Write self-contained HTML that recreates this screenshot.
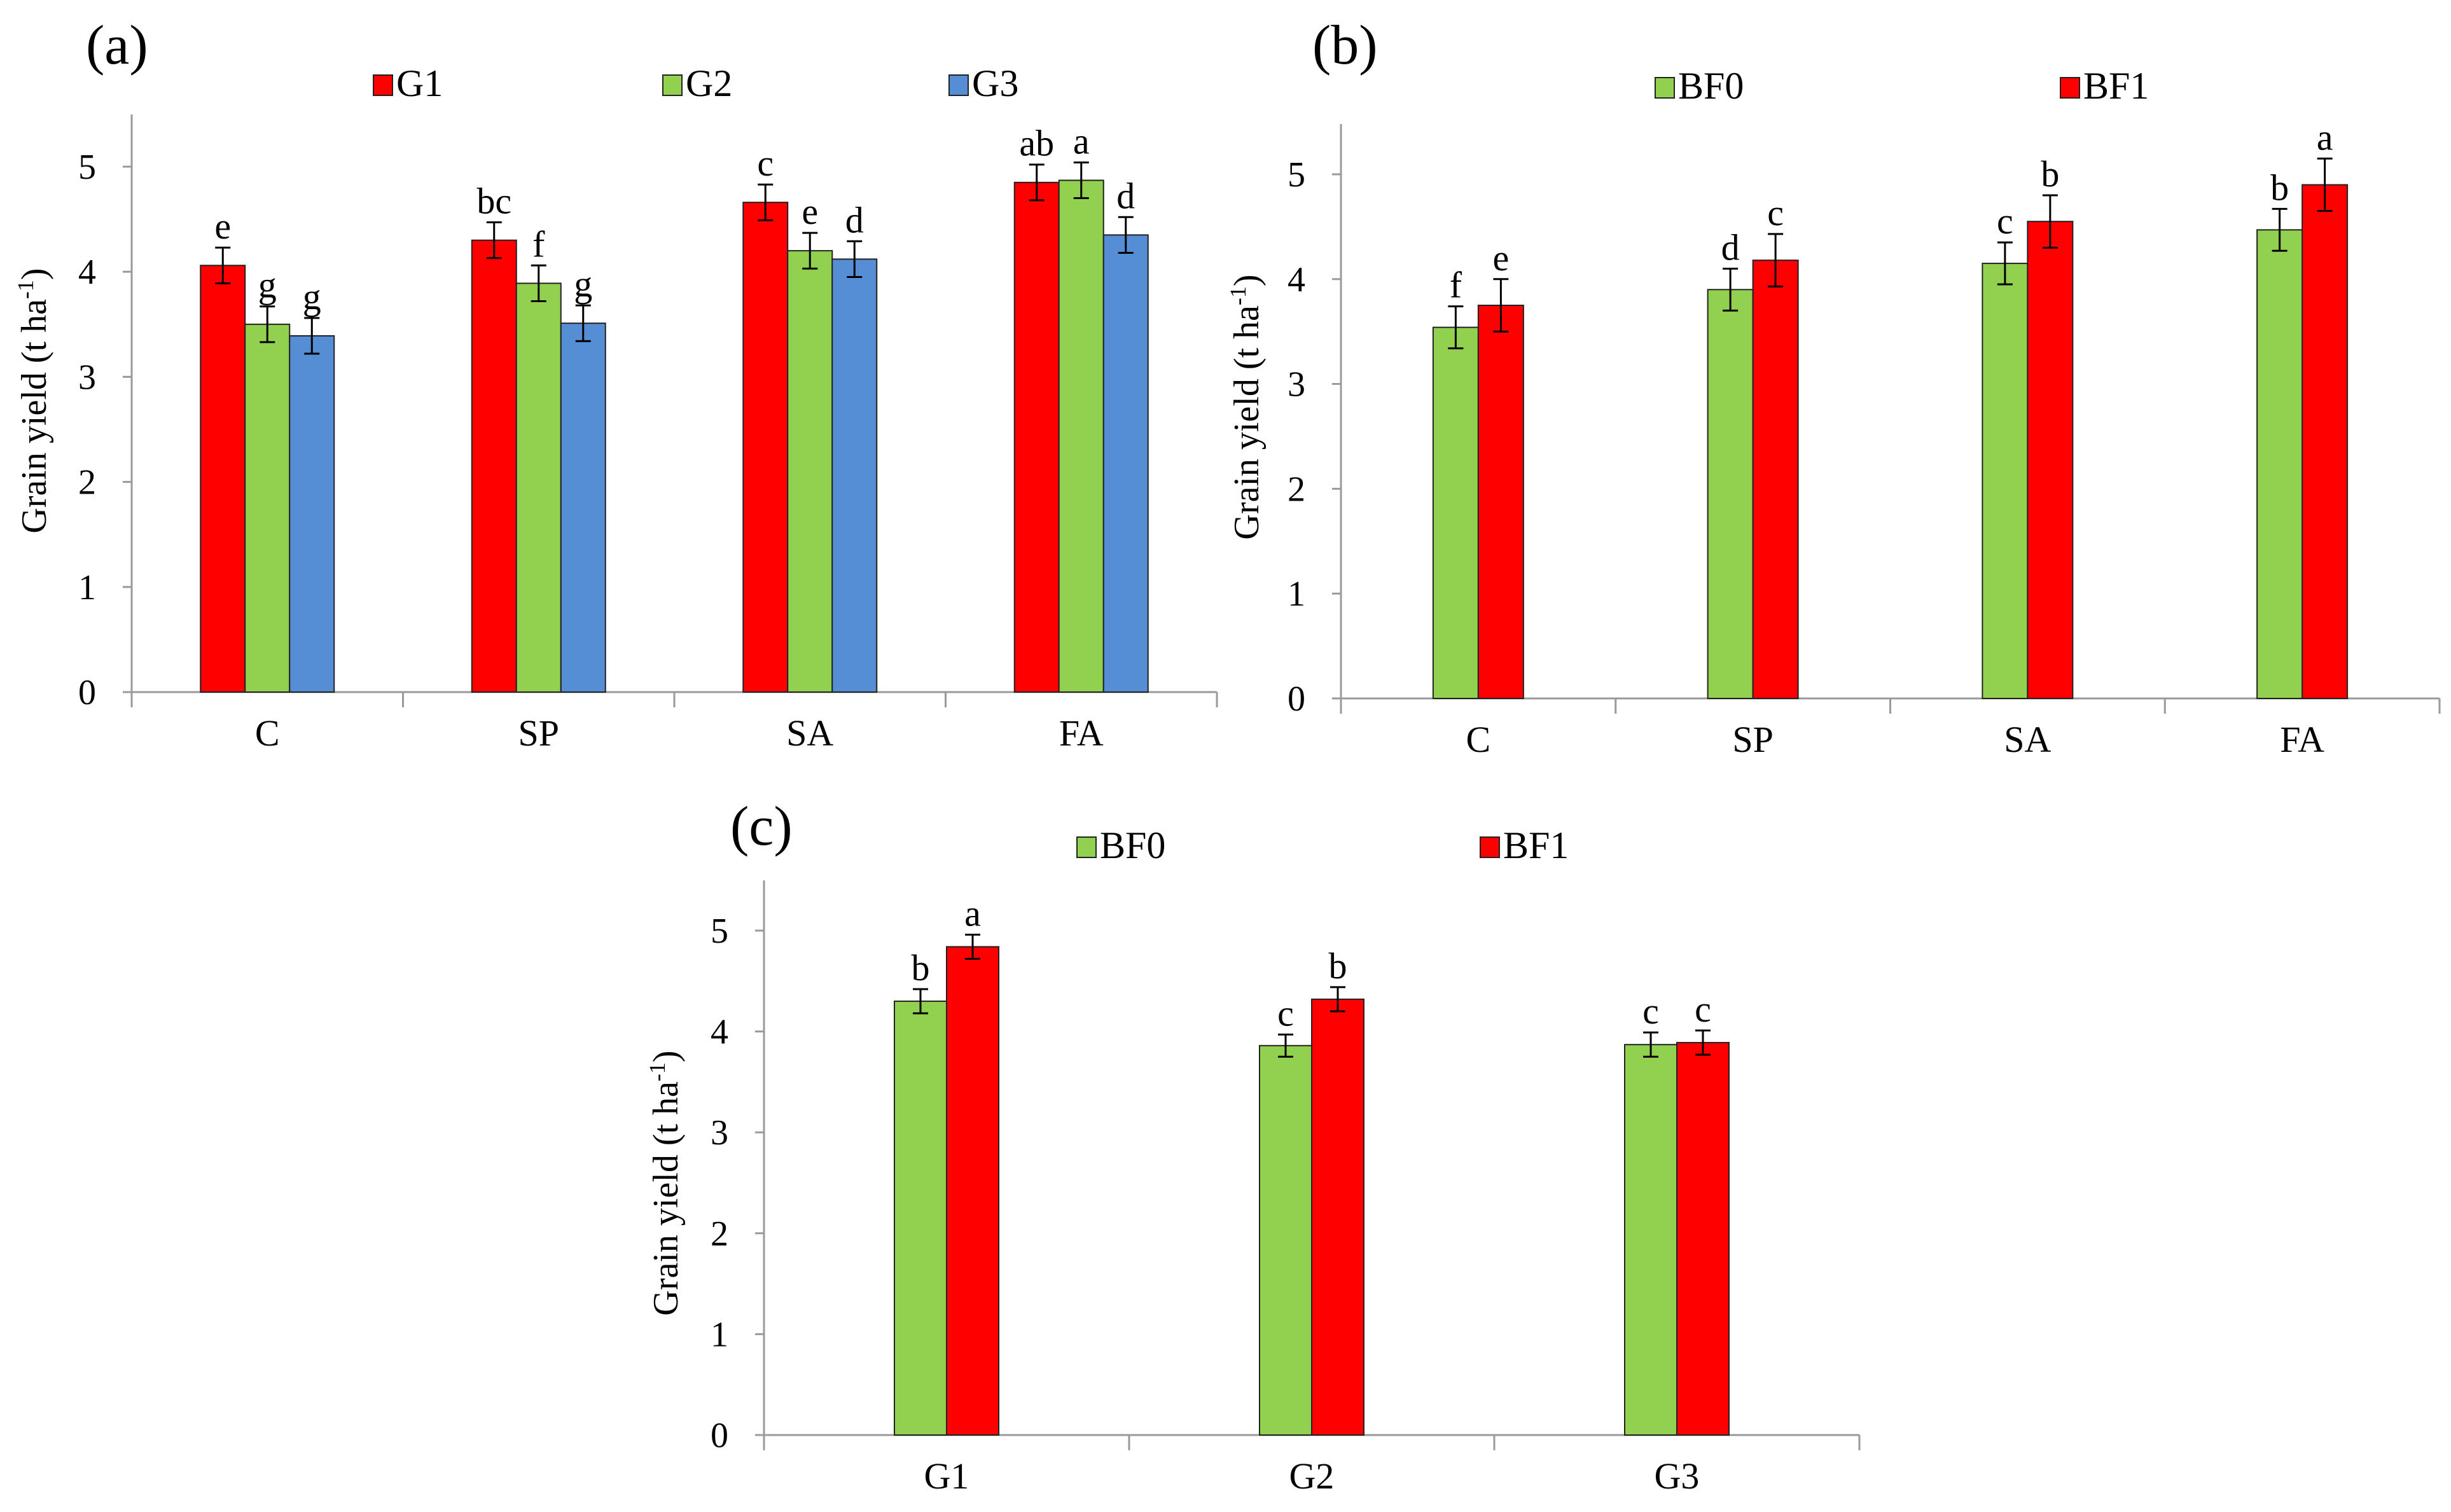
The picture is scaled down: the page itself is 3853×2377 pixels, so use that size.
<!DOCTYPE html>
<html><head><meta charset="utf-8"><style>
html,body{margin:0;padding:0;background:#fff}
svg{display:block;font-family:"Liberation Serif",serif}
</style></head><body>
<svg id="fig" width="3853" height="2377" viewBox="0 0 3853 2377" xmlns="http://www.w3.org/2000/svg"></svg>
<script>
// Panel (a)
const catsA = ["C","SP","SA","FA"];
const seriesNamesA = ["G1","G2","G3"];
const valsA_G1 = [4.06,4.30,4.66,4.85];
const valsA_G2 = [3.50,3.89,4.20,4.87];
const valsA_G3 = [3.39,3.51,4.12,4.35];
const errA_G1 = [0.17,0.17,0.17,0.17];
const errA_G2 = [0.17,0.17,0.17,0.17];
const errA_G3 = [0.17,0.17,0.17,0.17];
const lettersA_G1 = ["e","bc","c","ab"];
const lettersA_G2 = ["g","f","e","a"];
const lettersA_G3 = ["g","g","d","d"];
// Panel (b)
const catsB = ["C","SP","SA","FA"];
const seriesNamesB = ["BF0","BF1"];
const valsB_BF0 = [3.54,3.90,4.15,4.47];
const valsB_BF1 = [3.75,4.18,4.55,4.90];
const errB_BF0 = [0.20,0.20,0.20,0.20];
const errB_BF1 = [0.25,0.25,0.25,0.25];
const lettersB_BF0 = ["f","d","c","b"];
const lettersB_BF1 = ["e","c","b","a"];
// Panel (c)
const catsC = ["G1","G2","G3"];
const seriesNamesC = ["BF0","BF1"];
const valsC_BF0 = [4.30,3.86,3.87];
const valsC_BF1 = [4.84,4.32,3.89];
const errC_BF0 = [0.12,0.11,0.12];
const errC_BF1 = [0.12,0.12,0.12];
const lettersC_BF0 = ["b","c","c"];
const lettersC_BF1 = ["a","b","c"];
const yTicks = [0,1,2,3,4,5];

const RED="#FF0000", GREEN="#92D050", BLUE="#558ED5";
const NS="http://www.w3.org/2000/svg";
const svg=document.getElementById('fig');
function mk(tag,attrs,parent,text){const e=document.createElementNS(NS,tag);for(const k in attrs)e.setAttribute(k,attrs[k]);if(text!==undefined)e.textContent=text;(parent||svg).appendChild(e);return e;}

function panel(cfg){
  const g=mk('g',{});
  
  
  const y=v=>cfg.y0-(v/5)*(cfg.y0-cfg.y5);
  const n=cfg.cats.length, cw=(cfg.xR-cfg.x0)/n;
  const x=i=>cfg.x0+cw*(i+0.5);
  const ya=mk('line',{x1:cfg.x0,y1:cfg.yTop,x2:cfg.x0,y2:cfg.y0,stroke:'#9a9a9a','stroke-width':3},g);
  
  const xa=mk('line',{x1:cfg.x0-14,y1:cfg.y0,x2:cfg.xR,y2:cfg.y0,stroke:'#9a9a9a','stroke-width':3},g);
  
  yTicks.forEach(t=>{
    mk('line',{x1:cfg.x0-14,y1:y(t),x2:cfg.x0,y2:y(t),stroke:'#9a9a9a','stroke-width':3},g);
    const tl=mk('text',{x:cfg.x0-56,y:y(t)+19,'font-size':56,'text-anchor':'end'},g,String(t));
    
  });
  for(let i=0;i<=n;i++){mk('line',{x1:cfg.x0+cw*i,y1:cfg.y0,x2:cfg.x0+cw*i,y2:cfg.y0+24,stroke:'#9a9a9a','stroke-width':3},g);}
  cfg.cats.forEach((c,i)=>{
    const t=mk('text',{x:x(i),y:cfg.y0+84,'font-size':58,'text-anchor':'middle'},g,c);
    
  });
  const ns=cfg.series.length, bw=cfg.bw;
  cfg.series.forEach((s,si)=>{
    s.vals.forEach((v,i)=>{
      const bx=x(i)-ns*bw/2+si*bw;
      const r=mk('rect',{x:bx,y:y(v),width:bw,height:cfg.y0-y(v),fill:s.color,stroke:'#222','stroke-width':2},g);
      
      
      const cx=bx+bw/2, e=s.err[i];
      const eb=mk('path',{d:`M${cx},${y(v+e)}V${y(v-e)}M${cx-12},${y(v+e)}H${cx+12}M${cx-12},${y(v-e)}H${cx+12}`,stroke:'#000','stroke-width':3,fill:'none'},g);
      
      const lt=mk('text',{x:cx,y:y(v+e)-14,'font-size':58,'text-anchor':'middle'},g,s.letters[i]);
      
    });
    const lx=cfg.legX[si];
    const lb=mk('rect',{x:lx,y:cfg.legY,width:30,height:32,fill:s.color,stroke:'#222','stroke-width':2},g);
    
    const ltx=mk('text',{x:lx+36,y:cfg.legY+33,'font-size':60},g,s.name);
    
  });
  const yt=mk('text',{transform:`translate(${cfg.titleX},${cfg.titleY}) rotate(-90)`,'font-size':56,'text-anchor':'middle'},g);
  
  mk('tspan',{},yt,'Grain yield (t ha');
  mk('tspan',{dy:-20,'font-size':36},yt,'-1');
  mk('tspan',{dy:20},yt,')');
  const pl=mk('text',{x:cfg.labX,y:cfg.labY,'font-size':88},g,cfg.label);
  
}

panel({id:'a',label:'(a)',cats:catsA,x0:207,xR:1913,y0:1088,y5:262,yTop:180,bw:70,
  series:[{name:'G1',color:RED,vals:valsA_G1,err:errA_G1,letters:lettersA_G1},
          {name:'G2',color:GREEN,vals:valsA_G2,err:errA_G2,letters:lettersA_G2},
          {name:'G3',color:BLUE,vals:valsA_G3,err:errA_G3,letters:lettersA_G3}],
  legX:[587,1042,1492],legY:118,titleX:72,titleY:630,labX:135,labY:100});
panel({id:'b',label:'(b)',cats:catsB,x0:2108,xR:3835,y0:1098,y5:274,yTop:195,bw:71,
  series:[{name:'BF0',color:GREEN,vals:valsB_BF0,err:errB_BF0,letters:lettersB_BF0},
          {name:'BF1',color:RED,vals:valsB_BF1,err:errB_BF1,letters:lettersB_BF1}],
  legX:[2602,3239],legY:122,titleX:1978,titleY:640,labX:2063,labY:100});
panel({id:'c',label:'(c)',cats:catsC,x0:1201,xR:2923,y0:2256,y5:1463,yTop:1384,bw:82,
  series:[{name:'BF0',color:GREEN,vals:valsC_BF0,err:errC_BF0,letters:lettersC_BF0},
          {name:'BF1',color:RED,vals:valsC_BF1,err:errC_BF1,letters:lettersC_BF1}],
  legX:[1693,2327],legY:1316,titleX:1065,titleY:1860,labX:1148,labY:1328});
</script>
</body></html>
